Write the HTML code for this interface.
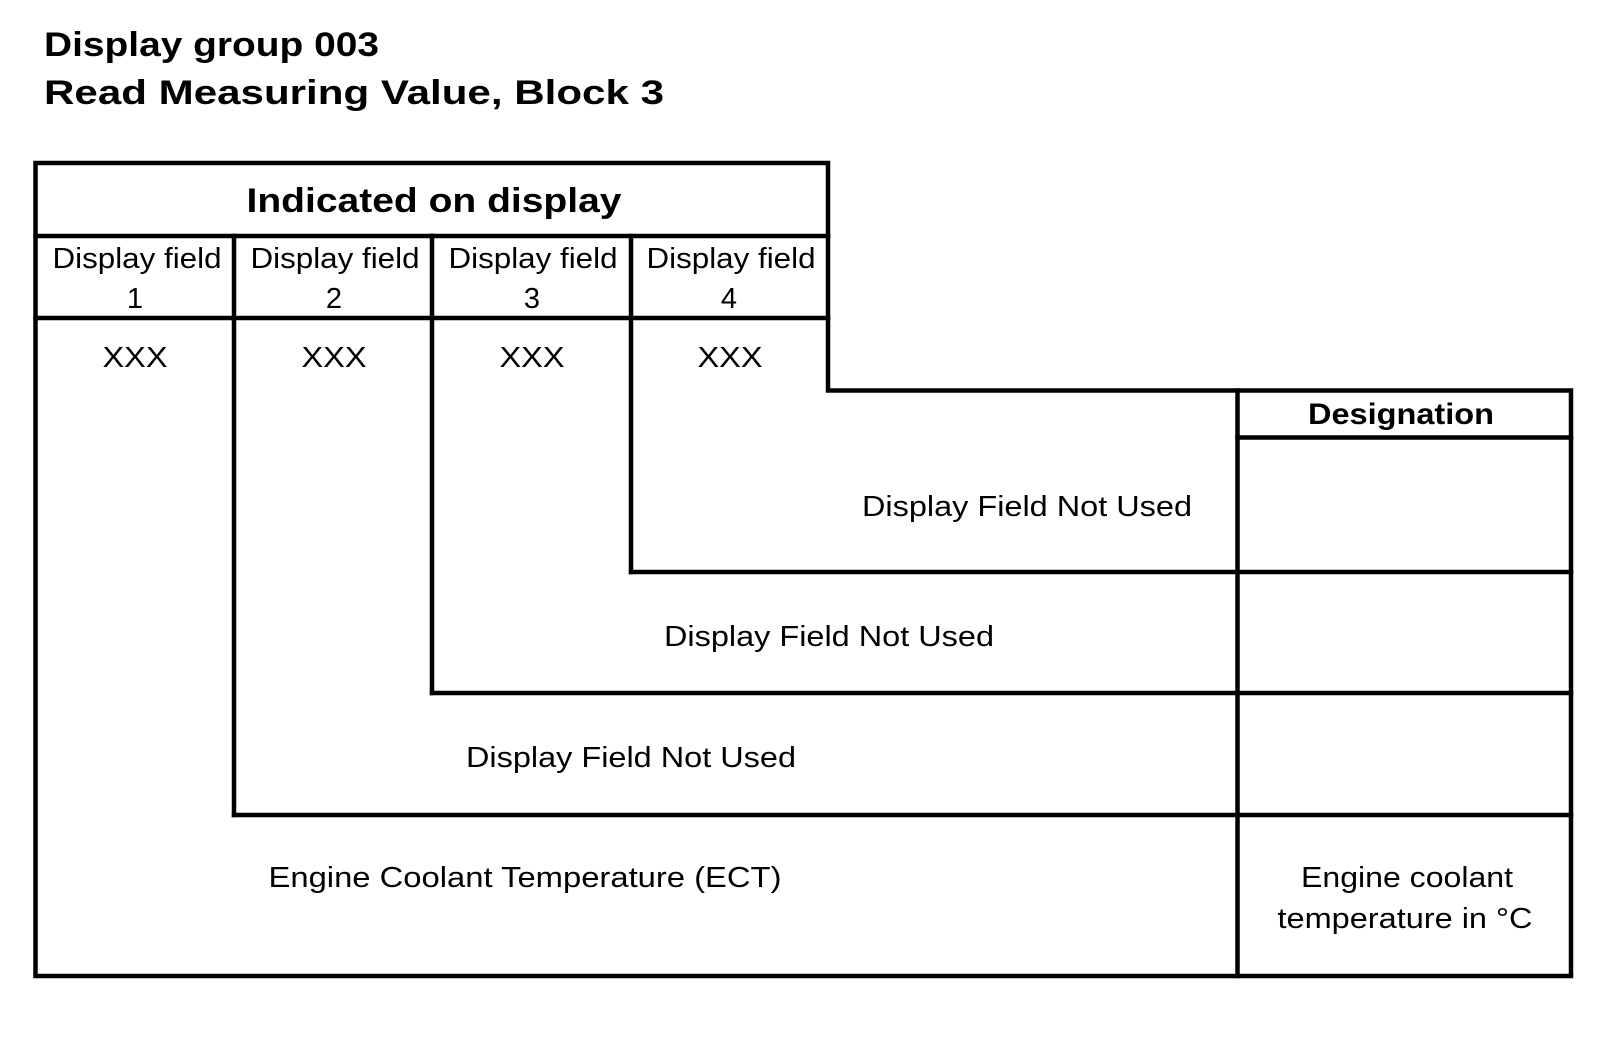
<!DOCTYPE html>
<html><head><meta charset="utf-8"><style>
html,body{margin:0;padding:0;background:#fff;}
svg{display:block;}
text{font-family:"Liberation Sans",Arial,sans-serif;fill:#000;}
</style></head><body>
<svg width="1600" height="1048" viewBox="0 0 1600 1048" xmlns="http://www.w3.org/2000/svg">
<g stroke="#000" stroke-width="4.5" fill="none" stroke-linecap="square">
<path d="M35.5 163 H828 V390.5 H1571 V976 H35.5 Z"/>
<line x1="35.5" y1="236" x2="828" y2="236"/>
<line x1="35.5" y1="318" x2="828" y2="318"/>
<line x1="234" y1="236" x2="234" y2="815"/>
<line x1="432" y1="236" x2="432" y2="693"/>
<line x1="631" y1="236" x2="631" y2="572"/>
<line x1="1237.5" y1="390.5" x2="1237.5" y2="976"/>
<line x1="1237.5" y1="437.5" x2="1571" y2="437.5"/>
<line x1="631" y1="572" x2="1571" y2="572"/>
<line x1="432" y1="693" x2="1571" y2="693"/>
<line x1="234" y1="815" x2="1571" y2="815"/>
</g>
<text x="44" y="56" font-size="34" font-weight="bold" textLength="335" lengthAdjust="spacingAndGlyphs">Display group 003</text>
<text x="44" y="104" font-size="34" font-weight="bold" textLength="620" lengthAdjust="spacingAndGlyphs">Read Measuring Value, Block 3</text>
<text x="434" y="212" font-size="34" font-weight="bold" text-anchor="middle" textLength="375" lengthAdjust="spacingAndGlyphs">Indicated on display</text>
<g font-size="29" text-anchor="middle">
<text x="137" y="268" textLength="169" lengthAdjust="spacingAndGlyphs">Display field</text>
<text x="335" y="268" textLength="169" lengthAdjust="spacingAndGlyphs">Display field</text>
<text x="533" y="268" textLength="169" lengthAdjust="spacingAndGlyphs">Display field</text>
<text x="731" y="268" textLength="169" lengthAdjust="spacingAndGlyphs">Display field</text>
<text x="135" y="308">1</text>
<text x="334" y="308">2</text>
<text x="532" y="308">3</text>
<text x="729" y="308">4</text>
<text x="135" y="367" textLength="65" lengthAdjust="spacingAndGlyphs">XXX</text>
<text x="334" y="367" textLength="65" lengthAdjust="spacingAndGlyphs">XXX</text>
<text x="532" y="367" textLength="65" lengthAdjust="spacingAndGlyphs">XXX</text>
<text x="730" y="367" textLength="65" lengthAdjust="spacingAndGlyphs">XXX</text>
<text x="1027" y="516" textLength="330" lengthAdjust="spacingAndGlyphs">Display Field Not Used</text>
<text x="829" y="646" textLength="330" lengthAdjust="spacingAndGlyphs">Display Field Not Used</text>
<text x="631" y="767" textLength="330" lengthAdjust="spacingAndGlyphs">Display Field Not Used</text>
<text x="525" y="887" textLength="513" lengthAdjust="spacingAndGlyphs">Engine Coolant Temperature (ECT)</text>
<text x="1407" y="887" textLength="212" lengthAdjust="spacingAndGlyphs">Engine coolant</text>
<text x="1405" y="928" textLength="255" lengthAdjust="spacingAndGlyphs">temperature in °C</text>
</g>
<text x="1401" y="424" font-size="30" font-weight="bold" text-anchor="middle" textLength="186" lengthAdjust="spacingAndGlyphs">Designation</text>
</svg>
</body></html>
